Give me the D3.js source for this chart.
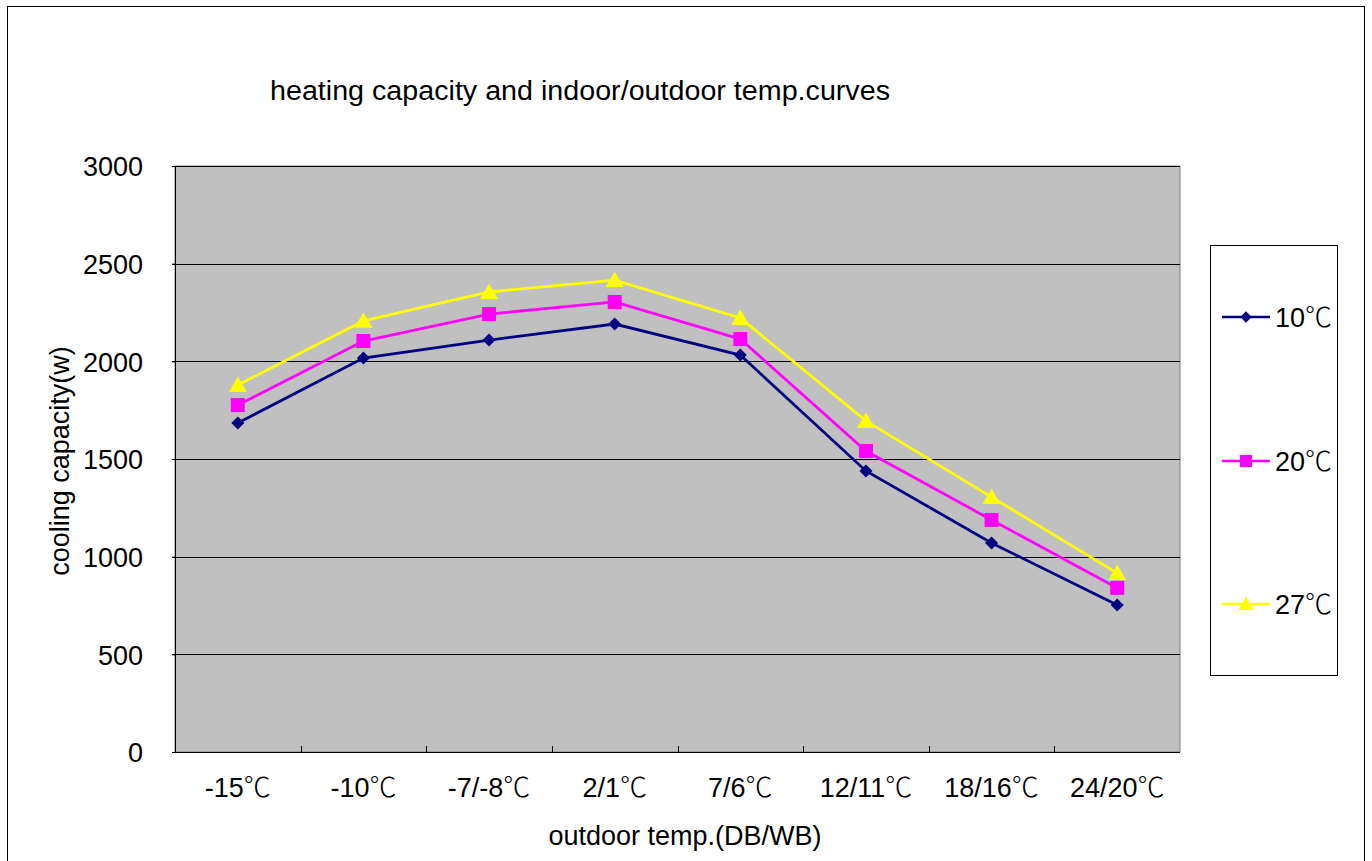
<!DOCTYPE html>
<html><head><meta charset="utf-8">
<script src="https://cdn.jsdelivr.net/npm/d3@7"></script>
<style>body{margin:0;background:#fff;} svg{display:block;font-family:"Liberation Sans",Arial,sans-serif;}</style>
</head><body>
<script>
const categories = ["-15℃","-10℃","-7/-8℃","2/1℃","7/6℃","12/11℃","18/16℃","24/20℃"];
const series10 = [1684,2017,2109,2191,2032,1439,1070,753];
const series20 = [1776,2104,2242,2304,2114,1541,1188,840];
const series27 = [1879,2207,2355,2416,2222,1695,1305,916];
const seriesNames = ["10℃","20℃","27℃"];
const yTicks = [0,500,1000,1500,2000,2500,3000];

const W=1372,H=861,FS=27;
const svg=d3.select("body").append("svg").attr("width",W).attr("height",H);
svg.append("rect").attr("x",7.5).attr("y",6.5).attr("width",1357).attr("height",880).attr("fill","#fff").attr("stroke","#000").attr("stroke-width",1);

const L=175,R=1180,T=166,B=752;
const x=d3.scaleBand().domain(categories).range([L,R]);
const y=d3.scaleLinear().domain([0,3000]).range([B,T]);

// helper: write text, rendering ℃ with a CJK font
function setText(sel, s){
  sel.text(null);
  const parts=s.split("℃");
  parts.forEach((p,i)=>{
    if(p) sel.append("tspan").text(p);
    if(i<parts.length-1) sel.append("tspan").attr("font-family","Noto Sans CJK SC").attr("font-weight",300).attr("font-size",FS).attr("dx",0).text("℃");
  });
}

svg.append("rect").attr("x",L).attr("y",T).attr("width",R-L).attr("height",B-T).attr("fill","#c0c0c0").attr("stroke","#808080");

// gridlines
svg.append("g").selectAll("line").data(yTicks.filter(d=>d>0)).join("line")
 .attr("x1",L-3).attr("x2",R).attr("y1",d=>Math.round(y(d))+0.5).attr("y2",d=>Math.round(y(d))+0.5)
 .attr("stroke","#000").attr("stroke-width",1);

// y axis
const ya=svg.append("g").attr("transform",`translate(${L},0)`).call(d3.axisLeft(y).tickValues(yTicks).tickFormat(d3.format("d")).tickSize(3).tickPadding(29));
ya.select(".domain").attr("stroke","#000");
ya.selectAll("text").attr("font-size",FS).attr("font-family","Liberation Sans, Arial").attr("fill","#000").attr("dy","0.36em");

// x axis
const xa=svg.append("g").attr("transform",`translate(0,${B})`);
xa.append("line").attr("x1",L).attr("x2",R).attr("y1",0.5).attr("y2",0.5).attr("stroke","#000");
xa.selectAll("line.tk").data(categories.slice(1)).join("line").attr("class","tk")
 .attr("x1",d=>Math.round(x(d))+0.5).attr("x2",d=>Math.round(x(d))+0.5).attr("y1",0).attr("y2",-6).attr("stroke","#000");
xa.selectAll("text").data(categories).join("text")
 .attr("x",d=>x(d)+x.bandwidth()/2).attr("y",45).attr("text-anchor","middle")
 .attr("font-size",FS).attr("fill","#000").each(function(d){setText(d3.select(this),d);});

// titles
svg.append("text").attr("x",270).attr("y",100).attr("font-size",FS).attr("textLength",620).attr("lengthAdjust","spacingAndGlyphs").text("heating capacity and indoor/outdoor temp.curves");
svg.append("text").attr("x",685).attr("y",845).attr("text-anchor","middle").attr("font-size",FS).text("outdoor temp.(DB/WB)");
svg.append("text").attr("transform","translate(69,461) rotate(-90)").attr("text-anchor","middle").attr("font-size",FS).text("cooling capacity(w)");

const cols=["#000080","#ff00ff","#ffff00"];
const data=[series10,series20,series27];
const line=d3.line().x((d,i)=>x(categories[i])+x.bandwidth()/2).y(d=>y(d));
const diamond={draw(ctx,size){const r=Math.sqrt(size)/2*1.41;ctx.moveTo(0,-r);ctx.lineTo(r,0);ctx.lineTo(0,r);ctx.lineTo(-r,0);ctx.closePath();}};
const tri={draw(ctx,size){const h=Math.sqrt(size);ctx.moveTo(0,-h*0.55);ctx.lineTo(h*0.58,h*0.45);ctx.lineTo(-h*0.58,h*0.45);ctx.closePath();}};
const sym=[diamond,d3.symbolSquare,tri];
const symSize=[85,196,240];
data.forEach((s,k)=>{
  svg.append("path").datum(s).attr("d",line).attr("fill","none").attr("stroke",cols[k]).attr("stroke-width",2.8);
});
data.forEach((s,k)=>{
  svg.append("g").selectAll("path").data(s).join("path")
   .attr("transform",(d,i)=>`translate(${x(categories[i])+x.bandwidth()/2},${y(d)})`)
   .attr("d",d3.symbol().type(sym[k]).size(symSize[k])).attr("fill",cols[k]);
});

// legend
const lg=svg.append("g");
lg.append("rect").attr("x",1210.5).attr("y",245.5).attr("width",127).attr("height",430).attr("fill","#fff").attr("stroke","#000");
const ly=[317,461,604];
seriesNames.forEach((n,k)=>{
  lg.append("line").attr("x1",1222).attr("x2",1270).attr("y1",ly[k]).attr("y2",ly[k]).attr("stroke",cols[k]).attr("stroke-width",2.5);
  lg.append("path").attr("transform",`translate(1246,${ly[k]})`).attr("d",d3.symbol().type(sym[k]).size(symSize[k]*0.75)).attr("fill",cols[k]);
  const t=lg.append("text").attr("x",1275).attr("y",ly[k]+10).attr("font-size",FS);
  setText(t,n);
});
</script>
</body></html>
